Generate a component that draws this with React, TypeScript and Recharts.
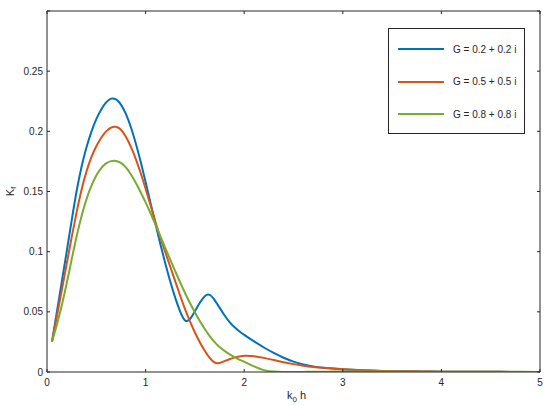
import { LineChart, Line, XAxis, YAxis, Legend } from 'recharts';

const FONT = '"Liberation Sans", Arial, Helvetica, sans-serif';
const AXIS = '#262626';

const xs = [
  0.05, 0.1, 0.15, 0.2, 0.25, 0.3, 0.35, 0.4, 0.45, 0.5,
  0.55, 0.6, 0.65, 0.7, 0.75, 0.8, 0.85, 0.9, 0.95, 1.0,
  1.05, 1.1, 1.15, 1.2, 1.25, 1.3, 1.35, 1.4, 1.45, 1.5,
  1.55, 1.6, 1.65, 1.7, 1.75, 1.8, 1.85, 1.9, 1.95, 2.0,
  2.1, 2.2, 2.3, 2.4, 2.5, 2.6, 2.7, 2.8, 2.9, 3.0,
  3.2, 3.4, 3.6, 3.8, 4.0, 4.2, 4.4, 4.6, 4.8, 5.0,
];

const kfG02 = [
  0.025, 0.05, 0.075, 0.1, 0.126, 0.151, 0.171, 0.187, 0.2, 0.2105,
  0.2185, 0.2245, 0.2278, 0.2272, 0.2228, 0.215, 0.204, 0.1905, 0.175, 0.158,
  0.1405, 0.123, 0.106, 0.09, 0.075, 0.0615, 0.05, 0.041, 0.0432, 0.0505,
  0.0578, 0.0638, 0.0652, 0.06, 0.0535, 0.047, 0.0415, 0.0372, 0.0338, 0.0308,
  0.0253, 0.0203, 0.0157, 0.0117, 0.0085, 0.0062, 0.0046, 0.0035, 0.0028, 0.0022,
  0.0014, 0.0009, 0.0006, 0.0004, 0.0003, 0.0002, 0.00015, 0.0001, 0.0001, 0.0001,
];

const kfG05 = [
  0.025, 0.046, 0.068, 0.09, 0.112, 0.133, 0.152, 0.167, 0.179, 0.188,
  0.195, 0.2003, 0.2036, 0.2042, 0.202, 0.1958, 0.1875, 0.1775, 0.1655, 0.1525,
  0.1385, 0.1245, 0.1115, 0.0995, 0.0875, 0.0755, 0.0635, 0.052, 0.0418, 0.0327,
  0.0246, 0.0176, 0.0113, 0.0072, 0.0072, 0.0091, 0.0107, 0.012, 0.013, 0.0136,
  0.0133, 0.0118, 0.0099, 0.0081, 0.0065, 0.0052, 0.0042, 0.0034, 0.0028, 0.0023,
  0.0014, 0.0009, 0.0006, 0.0004, 0.0003, 0.0002, 0.00015, 0.0001, 0.0001, 0.0,
];

const kfG08 = [
  0.025, 0.039, 0.055, 0.0735, 0.0935, 0.113, 0.13, 0.144, 0.155, 0.1637,
  0.1698, 0.1737, 0.1755, 0.1757, 0.1741, 0.1703, 0.1645, 0.1575, 0.1495, 0.141,
  0.132, 0.1225, 0.1128, 0.103, 0.0933, 0.0838, 0.0745, 0.0656, 0.0572, 0.0494,
  0.0422, 0.0356, 0.0297, 0.0247, 0.0205, 0.0175, 0.0148, 0.0124, 0.0103, 0.0085,
  0.0045, 0.0012, 0.0002, 0.0, 0.0, 0.0001, 0.0002, 0.0003, 0.0003, 0.0004,
  0.0004, 0.0004, 0.0003, 0.0003, 0.0003, 0.0002, 0.0002, 0.0002, 0.0001, 0.0001,
];

const seriesNames = ['G = 0.2 + 0.2 i', 'G = 0.5 + 0.5 i', 'G = 0.8 + 0.8 i'];
const seriesColors = ['#0072BD', '#D95319', '#77AC30'];

const xTicks = [0, 1, 2, 3, 4, 5];
const yTicks = [0, 0.05, 0.1, 0.15, 0.2, 0.25, 0.3];

const data = xs.map((x, i) => ({
  x,
  g02: kfG02[i],
  g05: kfG05[i],
  g08: kfG08[i],
}));

const tickStyle = { fontSize: 10, fill: AXIS, fontFamily: FONT };

function LegendBox({ payload }: any) {
  const items = payload ?? [];
  return (
    <div
      style={{
        width: 135,
        height: 104,
        border: `1px solid ${AXIS}`,
        background: '#fff',
        position: 'relative',
        fontFamily: FONT,
        fontSize: 10,
        color: AXIS,
      }}
    >
      {items.map((entry: any, i: number) => (
        <div
          key={entry.value}
          style={{
            position: 'absolute',
            left: 9,
            top: 14 + i * 32.5,
            height: 12,
            display: 'flex',
            alignItems: 'center',
            whiteSpace: 'nowrap',
          }}
        >
          <span
            style={{ display: 'inline-block', width: 46, height: 2, background: entry.color }}
          />
          <span style={{ marginLeft: 9 }}>{entry.value}</span>
        </div>
      ))}
    </div>
  );
}

export default function App() {
  return (
    <div style={{ position: 'absolute', left: 0, top: 0, background: '#fff' }}>
      <LineChart
        width={550}
        height={406}
        data={data}
        margin={{ top: 1, right: 0, bottom: 0, left: 0 }}
      >
        <XAxis
          dataKey="x"
          type="number"
          domain={[0, 5]}
          ticks={xTicks}
          allowDataOverflow
          height={34}
          stroke={AXIS}
          tickSize={-3}
          tickMargin={10}
          tick={tickStyle}
          label={{
            content: (props: any) => {
              const vb = props.viewBox || { x: 47, y: 372, width: 493 };
              return (
                <text
                  x={vb.x + vb.width / 2 + 3}
                  y={vb.y + 27}
                  textAnchor="middle"
                  fontFamily={FONT}
                  fontSize={11}
                  fill={AXIS}
                >
                  k
                  <tspan fontSize={8} dy={3}>0</tspan>
                  <tspan dy={-3}> h</tspan>
                </text>
              );
            },
          }}
        />
        <XAxis
          xAxisId="top"
          orientation="top"
          dataKey="x"
          type="number"
          domain={[0, 5]}
          ticks={xTicks}
          allowDataOverflow
          height={10}
          stroke={AXIS}
          tickSize={-3}
          tickFormatter={() => ''}
        />
        <YAxis
          type="number"
          domain={[0, 0.3]}
          ticks={yTicks}
          allowDataOverflow
          width={47}
          stroke={AXIS}
          tickSize={-3}
          tickMargin={7}
          tick={tickStyle}
          tickFormatter={(v: number) => (v === 0.3 ? '' : String(v))}
          label={{
            content: (props: any) => {
              const vb = props.viewBox || { x: 0, y: 11, height: 361 };
              const cy = vb.y + vb.height / 2;
              return (
                <text
                  x={14}
                  y={cy}
                  transform={`rotate(-90, 14, ${cy})`}
                  textAnchor="middle"
                  fontFamily={FONT}
                  fontSize={11}
                  fill={AXIS}
                >
                  K
                  <tspan fontSize={7} dy={2}>f</tspan>
                </text>
              );
            },
          }}
        />
        <YAxis
          yAxisId="right"
          orientation="right"
          type="number"
          domain={[0, 0.3]}
          ticks={yTicks}
          allowDataOverflow
          width={10}
          stroke={AXIS}
          tickSize={-3}
          tickFormatter={() => ''}
        />
        <Legend
          layout="vertical"
          align="center"
          verticalAlign="middle"
          content={<LegendBox />}
          wrapperStyle={{ position: 'absolute', left: 388, top: 28, width: 137, height: 106 }}
        />
        <Line
          dataKey="g02"
          name={seriesNames[0]}
          type="basis"
          stroke={seriesColors[0]}
          strokeWidth={2}
          dot={false}
          isAnimationActive={false}
        />
        <Line
          dataKey="g05"
          name={seriesNames[1]}
          type="basis"
          stroke={seriesColors[1]}
          strokeWidth={2}
          dot={false}
          isAnimationActive={false}
        />
        <Line
          dataKey="g08"
          name={seriesNames[2]}
          type="basis"
          stroke={seriesColors[2]}
          strokeWidth={2}
          dot={false}
          isAnimationActive={false}
        />
      </LineChart>
    </div>
  );
}
